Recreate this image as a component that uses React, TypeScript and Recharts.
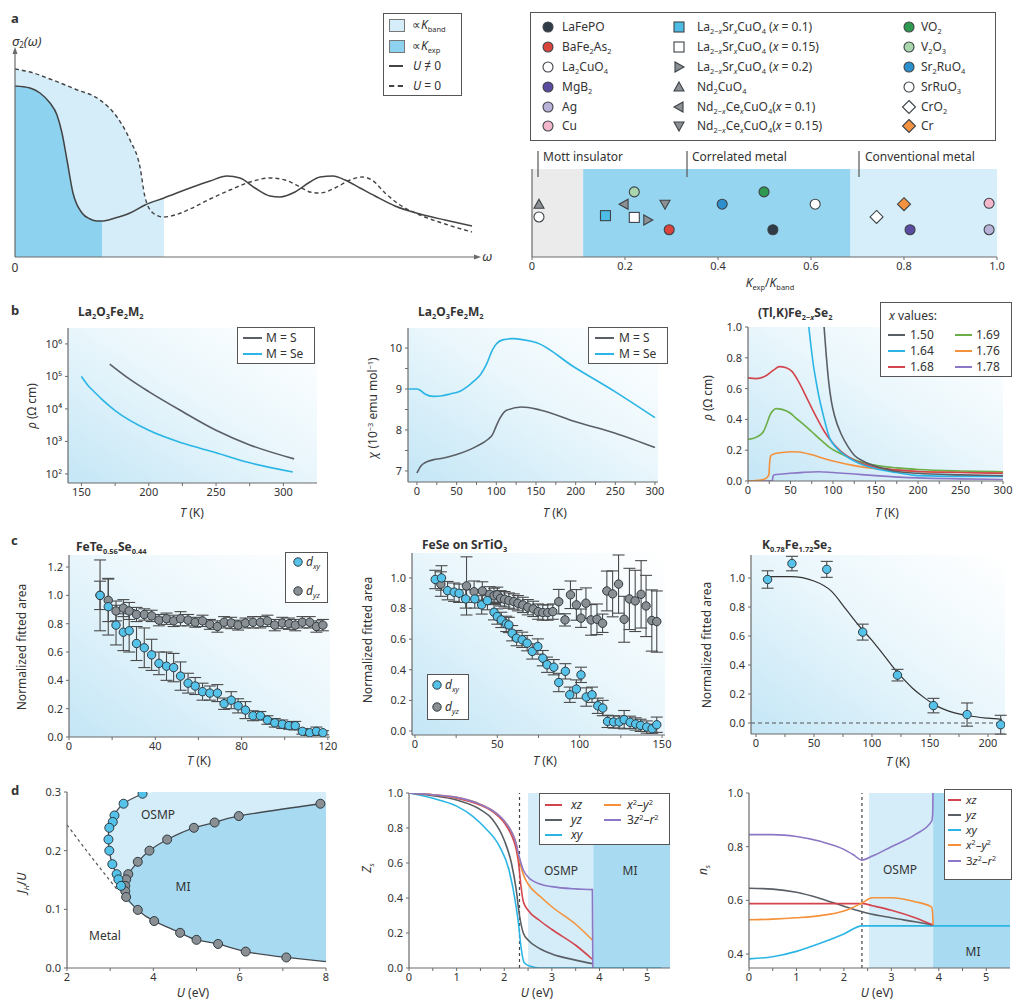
import React from 'react';
import {
  ComposedChart, Scatter, Line, Area, XAxis, YAxis,
  ReferenceArea, ReferenceLine, ErrorBar,
} from 'recharts';

const FONT = '"Noto Sans", "Open Sans", Arial, sans-serif';
const INK = '#333';
const AX = '#6a6a6a';
const CYAN = '#2ab5e5';
const GREY = '#5a5f65';
const RED = '#d3454d';
const GREEN = '#6cae45';
const ORANGE = '#f4913a';
const PURPLE = '#8c76c6';
const DOT_CYAN = '#55c2ea';
const DOT_GREY = '#8a8f94';
const LIGHT = '#d4edf9';
const MID = '#a8dbf1';

// ---- a (left): sigma_2(omega) sketch, arbitrary units ----
const omegaSolid = [0, 15, 25, 35, 42, 47, 52, 58, 67, 75, 82, 87, 100, 115, 130, 149, 175, 195, 212, 225, 240, 255, 265, 280, 295, 305, 318, 330, 345, 360, 380, 405, 430, 457];
const sigmaSolid = [171, 169, 164, 154, 142, 124, 97, 64, 44, 38, 36, 36, 39, 44, 52, 59, 69, 76, 81, 79, 69, 61, 60, 65, 75, 80, 81, 77, 69, 61, 51, 43, 37, 31];
const omegaDashed = [0, 15, 35, 60, 85, 102, 115, 125, 130, 138, 148, 160, 175, 195, 215, 235, 255, 270, 285, 295, 305, 320, 335, 347, 357, 370, 385, 405, 430, 457];
const sigmaDashed = [188, 185, 178, 168, 157, 140, 117, 90, 60, 44, 40, 42, 48, 58, 67, 75, 79, 77, 70, 65, 64, 69, 77, 80, 77, 64, 52, 42, 33, 25];
const omegaBand = [0, 15, 35, 60, 85, 102, 115, 125, 130, 132, 140, 149];
const sigmaBand = [188, 185, 178, 168, 157, 140, 117, 90, 60, 55, 57, 59];
const omegaExpCut = 87;

// ---- a (right): K_exp / K_band ----
const materials = ['LaFePO', 'BaFe2As2', 'La2CuO4', 'MgB2', 'Ag', 'Cu', 'LSCO 0.1', 'LSCO 0.15', 'LSCO 0.2', 'Nd2CuO4', 'NCCO 0.1', 'NCCO 0.15', 'VO2', 'V2O3', 'Sr2RuO4', 'SrRuO3', 'CrO2', 'Cr'];
const kRatio = [0.518, 0.295, 0.015, 0.813, 0.983, 0.983, 0.158, 0.22, 0.249, 0.015, 0.198, 0.286, 0.499, 0.22, 0.409, 0.609, 0.741, 0.8];
const kRow = [0.31, 0.31, 0.455, 0.31, 0.31, 0.61, 0.47, 0.45, 0.42, 0.6, 0.6, 0.6, 0.74, 0.74, 0.6, 0.6, 0.455, 0.6];
const regionEdges = [0, 0.11, 0.685, 1];

// ---- b ----
const rhoS_T = [171, 185, 200, 225, 250, 275, 308];
const rhoS = [2.4e5, 8.7e4, 3.4e4, 8.3e3, 2.2e3, 7.8e2, 2.9e2];
const rhoSe_T = [150, 155, 160, 165, 175, 200, 225, 250, 275, 307];
const rhoSe = [1e5, 5.2e4, 3.2e4, 2e4, 8.9e3, 2.2e3, 8.9e2, 4.5e2, 2.2e2, 1.15e2];

const chiSe_T = [-11, 0, 4, 10, 21, 30, 42, 55, 63, 72, 80, 88, 95, 100, 108, 120, 135, 151, 197, 250, 300];
const chiSe = [9.0, 9.0, 8.97, 8.88, 8.82, 8.83, 8.88, 8.95, 9.05, 9.2, 9.35, 9.62, 9.95, 10.1, 10.2, 10.23, 10.2, 10.13, 9.55, 8.93, 8.3];
const chiS_T = [0, 5, 10, 20, 35, 50, 75, 90, 95, 100, 105, 113, 132, 155, 200, 250, 300];
const chiS = [6.95, 7.12, 7.2, 7.27, 7.32, 7.4, 7.6, 7.78, 7.88, 8.1, 8.3, 8.48, 8.56, 8.49, 8.2, 7.92, 7.57];

const x150_T = [88, 89.5, 92, 95, 98, 102, 110, 118, 125, 135, 148, 160, 171, 200, 250, 300];
const x150 = [1.1, 1.0, 0.82, 0.64, 0.52, 0.42, 0.3, 0.22, 0.167, 0.13, 0.1, 0.08, 0.065, 0.05, 0.04, 0.035];
const x164_T = [70, 71.6, 74, 77, 80, 83, 88, 96, 105, 114, 125, 137, 150, 175, 200, 250, 300];
const x164 = [1.1, 1.0, 0.88, 0.75, 0.65, 0.56, 0.44, 0.28, 0.21, 0.167, 0.13, 0.1, 0.08, 0.055, 0.035, 0.03, 0.03];
const x168_T = [0, 10, 20, 30, 37, 45, 52, 60, 70, 80, 90, 100, 110, 125, 150, 175, 200, 250, 300];
const x168 = [0.67, 0.665, 0.68, 0.72, 0.743, 0.735, 0.71, 0.64, 0.53, 0.42, 0.32, 0.245, 0.19, 0.135, 0.09, 0.072, 0.062, 0.055, 0.05];
const x169_T = [0, 10, 18, 22, 26, 30, 33, 40, 50, 56, 65, 75, 87, 98, 110, 121, 135, 152, 175, 200, 250, 300];
const x169 = [0.27, 0.285, 0.32, 0.37, 0.43, 0.46, 0.47, 0.465, 0.44, 0.41, 0.37, 0.32, 0.26, 0.21, 0.175, 0.146, 0.12, 0.1, 0.085, 0.075, 0.065, 0.06];
const x176_T = [0, 10, 18, 22, 24.5, 25.5, 27, 30, 40, 52, 60, 75, 90, 100, 125, 150, 175, 200, 250, 300];
const x176 = [0, 0.003, 0.01, 0.02, 0.04, 0.12, 0.165, 0.175, 0.185, 0.19, 0.188, 0.17, 0.145, 0.13, 0.1, 0.08, 0.07, 0.062, 0.057, 0.055];
const x178_T = [0, 20, 28.5, 29.5, 31, 40, 50, 65, 83, 100, 125, 150, 200, 250, 300];
const x178 = [0, 0, 0.002, 0.03, 0.04, 0.045, 0.05, 0.056, 0.06, 0.055, 0.045, 0.035, 0.02, 0.014, 0.01];

// ---- c ----
const fts_T = [14.4, 18.2, 21.8, 25.2, 27.9, 31.3, 34.9, 38.3, 41.7, 45.2, 48.5, 51.7, 55.2, 58.5, 61.9, 65.3, 68.8, 71.9, 75.2, 78.4, 81.8, 85.3, 88.7, 92, 95.4, 98.9, 102, 104.9, 108.2, 111.6, 114.7, 117.7];
const fts_xy = [1.0, 0.92, 0.79, 0.74, 0.75, 0.66, 0.63, 0.58, 0.52, 0.5, 0.49, 0.43, 0.38, 0.36, 0.32, 0.31, 0.31, 0.235, 0.26, 0.22, 0.19, 0.15, 0.15, 0.12, 0.1, 0.09, 0.08, 0.08, 0.04, 0.03, 0.04, 0.03];
const fts_xyErr = [0.25, 0.2, 0.14, 0.13, 0.15, 0.12, 0.14, 0.11, 0.08, 0.1, 0.1, 0.1, 0.07, 0.06, 0.06, 0.05, 0.06, 0.04, 0.06, 0.05, 0.06, 0.035, 0.03, 0.03, 0.03, 0.03, 0.025, 0.03, 0.02, 0.02, 0.03, 0.015];
const fts_yz = [1.0, 0.965, 0.89, 0.91, 0.89, 0.865, 0.865, 0.855, 0.825, 0.835, 0.82, 0.835, 0.825, 0.81, 0.82, 0.795, 0.78, 0.81, 0.805, 0.79, 0.805, 0.81, 0.81, 0.82, 0.79, 0.805, 0.8, 0.79, 0.81, 0.81, 0.78, 0.79];
const fts_yzErr = [0.1, 0.15, 0.07, 0.06, 0.06, 0.05, 0.04, 0.04, 0.04, 0.04, 0.04, 0.05, 0.04, 0.035, 0.04, 0.035, 0.04, 0.04, 0.04, 0.035, 0.035, 0.04, 0.04, 0.04, 0.04, 0.04, 0.04, 0.04, 0.04, 0.04, 0.04, 0.04];

const sto_xyT = [12.3, 16.1, 19.8, 23.8, 26.8, 30.8, 36.3, 40.5, 44, 48, 50, 52.4, 55.4, 57, 59, 61.7, 65.1, 68.1, 71.2, 74.6, 77.6, 80.2, 84.3, 87.3, 91.3, 94, 98, 100.8, 104, 107.5, 111, 114, 116.9, 120.6, 124, 127, 130.6, 134, 137, 140.7, 144, 146.8];
const sto_xy = [0.99, 1.0, 0.917, 0.907, 0.9, 0.863, 0.863, 0.824, 0.852, 0.776, 0.748, 0.726, 0.7, 0.693, 0.639, 0.607, 0.596, 0.574, 0.52, 0.552, 0.476, 0.433, 0.417, 0.317, 0.39, 0.237, 0.274, 0.367, 0.222, 0.237, 0.165, 0.15, 0.063, 0.059, 0.059, 0.074, 0.057, 0.046, 0.037, 0.026, 0.015, 0.041];
const sto_xyErr = [0.06, 0.08, 0.06, 0.06, 0.06, 0.06, 0.06, 0.06, 0.06, 0.05, 0.05, 0.05, 0.05, 0.05, 0.05, 0.05, 0.05, 0.05, 0.05, 0.05, 0.05, 0.05, 0.05, 0.06, 0.05, 0.05, 0.06, 0.05, 0.06, 0.05, 0.05, 0.05, 0.04, 0.04, 0.04, 0.06, 0.04, 0.04, 0.04, 0.04, 0.03, 0.05];
const sto_yzT = [15.7, 31.3, 35.9, 40.9, 45.4, 48, 50, 52, 54.4, 57, 60, 62.5, 65.5, 68.5, 71.8, 74.8, 77.6, 80.6, 83.7, 87.3, 91.1, 94.4, 98, 100.8, 103.8, 106.9, 110.5, 113.9, 116.5, 120, 123.6, 127, 130.2, 133.7, 137.3, 140.3, 143.8, 146.8];
const sto_yz = [0.96, 0.948, 0.91, 0.915, 0.893, 0.883, 0.89, 0.867, 0.861, 0.852, 0.846, 0.835, 0.824, 0.809, 0.798, 0.78, 0.774, 0.774, 0.78, 0.845, 0.726, 0.89, 0.824, 0.737, 0.835, 0.726, 0.73, 0.704, 0.915, 0.896, 0.96, 0.73, 0.863, 0.85, 0.893, 0.817, 0.722, 0.715];
const sto_yzErr = [0.08, 0.19, 0.07, 0.06, 0.05, 0.05, 0.05, 0.05, 0.05, 0.05, 0.05, 0.05, 0.05, 0.05, 0.05, 0.05, 0.05, 0.05, 0.05, 0.08, 0.04, 0.09, 0.1, 0.06, 0.1, 0.1, 0.1, 0.06, 0.13, 0.15, 0.19, 0.15, 0.2, 0.2, 0.22, 0.2, 0.2, 0.2];

const kfs_T = [10, 31, 61, 92, 122, 153, 182, 211];
const kfs_xy = [0.99, 1.1, 1.06, 0.627, 0.33, 0.12, 0.058, -0.012];
const kfs_err = [0.06, 0.05, 0.055, 0.055, 0.04, 0.05, 0.08, 0.065];
const kfsFit_T = [10, 30, 50, 65, 78, 90, 100, 110, 123, 135, 145, 154, 165, 183, 200, 212];
const kfsFit = [1.01, 1.01, 0.98, 0.91, 0.78, 0.66, 0.57, 0.47, 0.34, 0.24, 0.175, 0.125, 0.085, 0.05, 0.033, 0.025];

// ---- d (left): phase diagram ----
const osmpEdgeU = [3.75, 3.31, 3.1, 3.06, 2.98, 2.96, 2.98, 3.05, 3.15, 3.19, 3.25];
const osmpEdgeJ = [0.297, 0.28, 0.26, 0.249, 0.239, 0.219, 0.2, 0.177, 0.16, 0.151, 0.14];
const miEdgeU = [7.87, 5.98, 5.42, 4.94, 4.32, 3.91, 3.64, 3.42, 3.37, 3.35, 3.35, 3.37, 3.64, 4.02, 4.62, 5.0, 5.5, 6.14, 7.08];
const miEdgeJ = [0.28, 0.259, 0.248, 0.239, 0.219, 0.2, 0.181, 0.16, 0.151, 0.14, 0.131, 0.121, 0.099, 0.08, 0.06, 0.048, 0.041, 0.028, 0.018];
const miTailU = 8.0;
const miTailJ = 0.011;
const metalEdgeU = [2.0, 2.38, 2.77, 3.19];
const metalEdgeJ = [0.244, 0.207, 0.17, 0.131];
const osmpFillU = [2.96, 2.98, 3.05, 3.1, 3.15, 3.19, 3.25, 3.31, 3.5, 3.75, 4.0, 8.0];
const osmpFillLo = [0.219, 0.2, 0.177, 0.168, 0.16, 0.151, 0.14, 0.137, 0.13, 0.13, 0.13, 0.13];
const osmpFillHi = [0.219, 0.239, 0.252, 0.26, 0.267, 0.272, 0.277, 0.28, 0.289, 0.297, 0.3, 0.3];
const miFillU = [3.34, 3.36, 3.42, 3.64, 3.91, 4.02, 4.32, 4.62, 4.94, 5.42, 5.98, 6.14, 7.08, 7.87, 8.0];
const miFillLo = [0.135, 0.122, 0.112, 0.099, 0.086, 0.08, 0.07, 0.06, 0.049, 0.042, 0.031, 0.028, 0.018, 0.012, 0.011];
const miFillHi = [0.135, 0.148, 0.16, 0.181, 0.2, 0.205, 0.219, 0.229, 0.239, 0.248, 0.259, 0.262, 0.273, 0.28, 0.281];

// ---- d (middle): Z_s ----
const zU_xz = [0, 0.5, 1, 1.5, 1.75, 2, 2.15, 2.25, 2.3, 2.35, 2.4, 2.5, 2.75, 3, 3.5, 3.85];
const z_xz = [1, 0.99, 0.97, 0.93, 0.895, 0.83, 0.76, 0.68, 0.6, 0.47, 0.38, 0.33, 0.27, 0.22, 0.13, 0.05];
const zU_yz = [0, 0.5, 1, 1.5, 1.75, 2, 2.15, 2.25, 2.32, 2.4, 2.5, 2.75, 3, 3.5, 3.85];
const z_yz = [1, 0.985, 0.96, 0.905, 0.85, 0.73, 0.6, 0.45, 0.3, 0.2, 0.16, 0.11, 0.08, 0.045, 0.025];
const zU_xy = [0, 0.5, 1, 1.34, 1.6, 1.9, 2.1, 2.25, 2.3, 2.35, 2.42, 2.55, 2.75, 5.3];
const z_xy = [1, 0.97, 0.925, 0.867, 0.8, 0.695, 0.56, 0.35, 0.25, 0.124, 0.03, 0.01, 0, 0];
const zU_x2y2 = [0, 0.5, 1, 1.5, 1.75, 2, 2.15, 2.25, 2.3, 2.35, 2.4, 2.5, 2.75, 3, 3.5, 3.85];
const z_x2y2 = [1, 0.99, 0.975, 0.935, 0.9, 0.84, 0.78, 0.71, 0.64, 0.58, 0.535, 0.48, 0.41, 0.35, 0.25, 0.16];
const zU_3z2 = [0, 0.5, 1, 1.5, 1.75, 2, 2.15, 2.25, 2.3, 2.35, 2.4, 2.5, 2.75, 3, 3.5, 3.85, 3.86];
const z_3z2 = [1, 0.99, 0.975, 0.935, 0.9, 0.84, 0.78, 0.71, 0.65, 0.6, 0.56, 0.52, 0.48, 0.465, 0.452, 0.448, 0];

// ---- d (right): n_s ----
const nU_3z2 = [0, 0.5, 1, 1.5, 2, 2.2, 2.38, 2.6, 3, 3.5, 3.85, 3.87, 3.88];
const n_3z2 = [0.845, 0.845, 0.838, 0.82, 0.79, 0.77, 0.75, 0.765, 0.8, 0.845, 0.895, 0.92, 1.05];
const nU_yz = [0, 0.5, 1, 1.5, 2, 2.5, 3, 3.5, 3.88];
const n_yz = [0.645, 0.642, 0.63, 0.607, 0.578, 0.552, 0.535, 0.52, 0.508];
const nU_xz = [0, 1, 2, 2.4, 2.6, 3, 3.5, 3.88];
const n_xz = [0.588, 0.588, 0.588, 0.588, 0.58, 0.563, 0.535, 0.508];
const nU_x2y2 = [0, 0.5, 1, 1.5, 2, 2.38, 2.6, 3, 3.5, 3.85, 3.87, 3.88];
const n_x2y2 = [0.528, 0.53, 0.535, 0.543, 0.56, 0.59, 0.61, 0.61, 0.595, 0.575, 0.55, 0.508];
const nU_xy = [0, 0.5, 1, 1.5, 2, 2.38, 5.5];
const n_xy = [0.382, 0.39, 0.41, 0.44, 0.475, 0.505, 0.505];

// ---------- helpers ----------
const pts = (xs: number[], ys: number[]) => xs.map((x, i) => ({ x, y: ys[i] }));
const errPts = (xs: number[], ys: number[], es: number[]) => xs.map((x, i) => ({ x, y: ys[i], err: es[i] }));
const bandPts = (xs: number[], lo: number[], hi: number[]) => xs.map((x, i) => ({ x, band: [lo[i], hi[i]] }));

const YW = 44, XH = 22, MT = 10, MR = 16;
type Box = { x0: number; y0: number; x1: number; y1: number };

function Frame({ box, children }: { box: Box; children: React.ReactNode }) {
  const width = box.x1 - box.x0 + YW + MR;
  const height = box.y1 - box.y0 + MT + XH;
  return (
    <div style={{ position: 'absolute', left: box.x0 - YW, top: box.y0 - MT }}>
      <ComposedChart width={width} height={height} margin={{ top: MT, right: MR, bottom: 0, left: 0 }}>
        {children}
      </ComposedChart>
    </div>
  );
}

const TICK = { fontSize: 11, fill: INK, fontFamily: FONT };
const LINE_AX = { stroke: AX, strokeWidth: 1.2 };

function xAx(domain: number[], ticks?: number[], fmt?: (v: number) => string) {
  return (
    <XAxis type="number" dataKey="x" domain={domain} ticks={ticks} tickFormatter={fmt} allowDataOverflow interval={0}
      height={XH} axisLine={LINE_AX} tickLine={{ stroke: AX }} tickSize={3} tickMargin={2} tick={ticks ? TICK : false} />
  );
}
function yAx(domain: number[], ticks?: number[], fmt?: (v: number) => string, scale?: any) {
  return (
    <YAxis type="number" dataKey="y" domain={domain} ticks={ticks} tickFormatter={fmt} allowDataOverflow interval={0}
      scale={scale || 'auto'} width={YW} axisLine={LINE_AX} tickLine={ticks ? { stroke: AX } : false} tickSize={3}
      tickMargin={3} tick={ticks ? TICK : false} />
  );
}
function grad(id: string) {
  return (
    <defs>
      <linearGradient id={id} x1="0" y1="1" x2="1" y2="0">
        <stop offset="0%" stopColor="#c4e6f6" />
        <stop offset="55%" stopColor="#ebf7fc" />
        <stop offset="100%" stopColor="#ffffff" />
      </linearGradient>
    </defs>
  );
}
function bg(id: string, xd: number[], yd: number[]) {
  return <ReferenceArea x1={xd[0]} x2={xd[1]} y1={yd[0]} y2={yd[1]} fill={`url(#${id})`} fillOpacity={1} stroke="none" ifOverflow="hidden" />;
}
function curve(data: any[], color: string, width = 1.6, type: any = 'monotone', dash?: string) {
  return <Line data={data} dataKey="y" type={type} stroke={color} strokeWidth={width} strokeDasharray={dash}
    dot={false} activeDot={false} isAnimationActive={false} />;
}
const circleShape = (fill: string, r = 4.2) => (p: any) =>
  <circle cx={p.cx} cy={p.cy} r={r} fill={fill} stroke="#2f3a40" strokeWidth={1} />;
function errSeries(data: any[], fill: string) {
  return (
    <Scatter data={data} shape={circleShape(fill)} isAnimationActive={false}>
      <ErrorBar dataKey="err" direction="y" width={6} stroke="#4a4a4a" strokeWidth={1.1} />
    </Scatter>
  );
}

function Txt({ x, y, children, size = 12, bold = false, align = 'left', rotate = false, italic = false }:
  { x: number; y: number; children: React.ReactNode; size?: number; bold?: boolean; align?: string; rotate?: boolean; italic?: boolean }) {
  const tx = align === 'center' ? '-50%' : align === 'right' ? '-100%' : '0';
  return (
    <div style={{
      position: 'absolute', left: x, top: y, whiteSpace: 'nowrap', lineHeight: 1, fontSize: size,
      fontWeight: bold ? 700 : 400, fontStyle: italic ? 'italic' : 'normal', color: INK,
      transform: rotate ? 'translate(-50%,-50%) rotate(-90deg)' : `translate(${tx},-50%)`,
    }}>{children}</div>
  );
}
const Sub = ({ children }: { children: React.ReactNode }) =>
  <sub style={{ fontSize: '0.62em', verticalAlign: '-0.35em', lineHeight: 0, fontStyle: 'normal' }}>{children}</sub>;
const Sup = ({ children }: { children: React.ReactNode }) =>
  <sup style={{ fontSize: '0.62em', verticalAlign: '0.55em', lineHeight: 0 }}>{children}</sup>;
const I = ({ children }: { children: React.ReactNode }) => <span style={{ fontStyle: 'italic' }}>{children}</span>;

function Box({ x0, y0, x1, y1 }: Box) {
  return <div style={{ position: 'absolute', left: x0, top: y0, width: x1 - x0, height: y1 - y0, border: '1.5px solid #555', background: '#fff', boxSizing: 'border-box' }} />;
}
function Swatch({ x, y, w = 17, color, dash = false }: { x: number; y: number; w?: number; color: string; dash?: boolean }) {
  return <div style={{ position: 'absolute', left: x, top: y - 1, width: w, height: 0, borderTop: `2px ${dash ? 'dashed' : 'solid'} ${color}` }} />;
}

function Marker({ cx, cy, kind, fill, s = 5 }: { cx: number; cy: number; kind: string; fill: string; s?: number }) {
  const st = { fill, stroke: '#3d4348', strokeWidth: 1.1 };
  const d = s + 1.5;
  if (kind === 'square') return <rect x={cx - s} y={cy - s} width={2 * s} height={2 * s} {...st} />;
  if (kind === 'diamond') return <polygon points={`${cx},${cy - d} ${cx + d},${cy} ${cx},${cy + d} ${cx - d},${cy}`} {...st} />;
  if (kind === 'triU') return <polygon points={`${cx},${cy - s} ${cx + s},${cy + s * 0.8} ${cx - s},${cy + s * 0.8}`} {...st} />;
  if (kind === 'triD') return <polygon points={`${cx},${cy + s} ${cx + s},${cy - s * 0.8} ${cx - s},${cy - s * 0.8}`} {...st} />;
  if (kind === 'triL') return <polygon points={`${cx - s},${cy} ${cx + s * 0.8},${cy - s} ${cx + s * 0.8},${cy + s}`} {...st} />;
  if (kind === 'triR') return <polygon points={`${cx + s},${cy} ${cx - s * 0.8},${cy - s} ${cx - s * 0.8},${cy + s}`} {...st} />;
  return <circle cx={cx} cy={cy} r={s} {...st} />;
}

const matKind = ['circle', 'circle', 'circle', 'circle', 'circle', 'circle', 'square', 'square', 'triR', 'triU', 'triL', 'triD', 'circle', 'circle', 'circle', 'circle', 'diamond', 'diamond'];
const matFill = ['#2f3b46', '#d9443c', '#ffffff', '#5a4aa0', '#b8b1d8', '#f4b6cb', '#4dbde6', '#ffffff', '#8c9094', '#8c9094', '#8c9094', '#8c9094', '#2f9a4f', '#a9d6ad', '#2d8fcc', '#ffffff', '#ffffff', '#f5923f'];
const matLabel: React.ReactNode[] = [
  <>LaFePO</>, <>BaFe<Sub>2</Sub>As<Sub>2</Sub></>, <>La<Sub>2</Sub>CuO<Sub>4</Sub></>, <>MgB<Sub>2</Sub></>, <>Ag</>, <>Cu</>,
  <>La<Sub>2−<I>x</I></Sub>Sr<Sub><I>x</I></Sub>CuO<Sub>4</Sub> (<I>x</I> = 0.1)</>,
  <>La<Sub>2−<I>x</I></Sub>Sr<Sub><I>x</I></Sub>CuO<Sub>4</Sub> (<I>x</I> = 0.15)</>,
  <>La<Sub>2−<I>x</I></Sub>Sr<Sub><I>x</I></Sub>CuO<Sub>4</Sub> (<I>x</I> = 0.2)</>,
  <>Nd<Sub>2</Sub>CuO<Sub>4</Sub></>,
  <>Nd<Sub>2−<I>x</I></Sub>Ce<Sub><I>x</I></Sub>CuO<Sub>4</Sub>(<I>x</I> = 0.1)</>,
  <>Nd<Sub>2−<I>x</I></Sub>Ce<Sub><I>x</I></Sub>CuO<Sub>4</Sub>(<I>x</I> = 0.15)</>,
  <>VO<Sub>2</Sub></>, <>V<Sub>2</Sub>O<Sub>3</Sub></>, <>Sr<Sub>2</Sub>RuO<Sub>4</Sub></>, <>SrRuO<Sub>3</Sub></>, <>CrO<Sub>2</Sub></>, <>Cr</>,
];
const legColSym = [548, 679, 909];
const legColTxt = [562, 697, 921];
const legRowY = [27, 47, 67, 87, 107, 126];

const SUPS: Record<number, string> = { 2: '²', 3: '³', 4: '⁴', 5: '⁵', 6: '⁶' };
const fmt1 = (v: number) => v.toFixed(1);

export default function App() {
  const solidPts = pts(omegaSolid, sigmaSolid);
  const expFill = solidPts.filter((p) => p.x <= omegaExpCut);
  const matPts = materials.map((name, i) => ({ x: kRatio[i], y: kRow[i], i, name }));
  const regionFills = ['#ebebeb', '#95d5f0', '#d6eef9'];

  return (
    <div style={{ position: 'absolute', left: 0, top: 0, width: 1016, height: 1003, background: '#fff', fontFamily: FONT, color: INK, overflow: 'hidden' }}>
      {/* ===== a left ===== */}
      <Frame box={{ x0: 15, y0: 52, x1: 475, y1: 257 }}>
        {xAx([0, 460])}
        {yAx([0, 205])}
        <Area data={pts(omegaBand, sigmaBand)} dataKey="y" type="monotone" stroke="none" fill={LIGHT} fillOpacity={1} activeDot={false} isAnimationActive={false} />
        <Area data={expFill} dataKey="y" type="monotone" stroke="none" fill="#8dd2ef" fillOpacity={1} activeDot={false} isAnimationActive={false} />
        {curve(pts(omegaDashed, sigmaDashed), '#444', 1.4, 'monotone', '4 3')}
        {curve(solidPts, '#444', 1.5)}
      </Frame>
      <Txt x={11} y={18} size={13} bold>a</Txt>
      <Txt x={12} y={41} size={13} italic>σ<Sub>2</Sub>(ω)</Txt>
      <Txt x={15} y={268} size={12} align="center">0</Txt>
      <Txt x={487} y={256} size={13} italic align="center">ω</Txt>
      <Box x0={383} y0={13} x1={462} y1={96} />
      <div style={{ position: 'absolute', left: 389, top: 19, width: 14, height: 11, background: LIGHT, border: '1px solid #777' }} />
      <div style={{ position: 'absolute', left: 389, top: 40, width: 14, height: 11, background: '#8dd2ef', border: '1px solid #777' }} />
      <Txt x={412} y={25} size={12}>∝<I>K</I><Sub>band</Sub></Txt>
      <Txt x={412} y={46} size={12}>∝<I>K</I><Sub>exp</Sub></Txt>
      <Swatch x={389} y={66} w={14} color="#444" />
      <Swatch x={389} y={86} w={14} color="#444" dash />
      <Txt x={413} y={66} size={12}><I>U</I> ≠ 0</Txt>
      <Txt x={413} y={86} size={12}><I>U</I> = 0</Txt>

      {/* ===== a right ===== */}
      <Box x0={530} y0={12} x1={996} y1={141} />
      {materials.map((m, i) => {
        const c = i < 6 ? 0 : i < 12 ? 1 : 2;
        const y = legRowY[i % 6];
        return (
          <React.Fragment key={m}>
            <svg style={{ position: 'absolute', left: legColSym[c] - 8, top: y - 8 }} width={16} height={16}>
              <Marker cx={8} cy={8} kind={matKind[i]} fill={matFill[i]} />
            </svg>
            <Txt x={legColTxt[c]} y={y} size={12}>{matLabel[i]}</Txt>
          </React.Fragment>
        );
      })}
      <Frame box={{ x0: 532, y0: 169, x1: 997, y1: 257 }}>
        {xAx([0, 1], [0, 0.2, 0.4, 0.6, 0.8, 1], (v) => (v === 0 ? '0' : v.toFixed(1)))}
        {yAx([0, 1])}
        {regionFills.map((f, i) => (
          <ReferenceArea key={i} x1={regionEdges[i]} x2={regionEdges[i + 1]} y1={0} y2={1} fill={f} fillOpacity={1} stroke="none" ifOverflow="hidden" />
        ))}
        <Scatter data={matPts} isAnimationActive={false}
          shape={(p: any) => <Marker cx={p.cx} cy={p.cy} kind={matKind[p.payload.i]} fill={matFill[p.payload.i]} />} />
      </Frame>
      <Txt x={543} y={157} size={12}>Mott insulator</Txt>
      <Txt x={692} y={157} size={12}>Correlated metal</Txt>
      <Txt x={865} y={157} size={12}>Conventional metal</Txt>
      <Txt x={770} y={283} size={12} align="center"><I>K</I><Sub>exp</Sub>/<I>K</I><Sub>band</Sub></Txt>

      {/* ===== b ===== */}
      <Frame box={{ x0: 68, y0: 328, x1: 317, y1: 483 }}>
        {grad('gb1')}
        {xAx([140, 325], [150, 175, 200, 225, 250, 275, 300], (v) => (v % 50 === 0 ? String(v) : ''))}
        {yAx([52.5, 3.09e6], [1e2, 1e3, 1e4, 1e5, 1e6], (v) => '10' + SUPS[Math.round(Math.log10(v))], 'log')}
        {bg('gb1', [140, 325], [52.5, 3.09e6])}
        {curve(pts(rhoSe_T, rhoSe), CYAN)}
        {curve(pts(rhoS_T, rhoS), GREY)}
      </Frame>
      <Txt x={11} y={310} size={13} bold>b</Txt>
      <Txt x={78} y={312} size={12} bold>La<Sub>2</Sub>O<Sub>3</Sub>Fe<Sub>2</Sub>M<Sub>2</Sub></Txt>
      <Txt x={32} y={406} size={12} rotate><I>ρ</I> (Ω cm)</Txt>
      <Txt x={192} y={513} size={12} align="center"><I>T</I> (K)</Txt>
      <Box x0={237} y0={327} x1={315} y1={364} />
      <Swatch x={243} y={338} w={19} color={GREY} />
      <Swatch x={243} y={354} w={19} color={CYAN} />
      <Txt x={266} y={338} size={12}>M = S</Txt>
      <Txt x={266} y={354} size={12}>M = Se</Txt>

      <Frame box={{ x0: 408, y0: 328, x1: 658, y1: 482 }}>
        {grad('gb2')}
        {xAx([-11.3, 303.8], [0, 25, 50, 75, 100, 125, 150, 175, 200, 225, 250, 275, 300], (v) => (v % 50 === 0 ? String(v) : ''))}
        {yAx([6.73, 10.49], [7, 7.5, 8, 8.5, 9, 9.5, 10], (v) => (Number.isInteger(v) ? String(v) : ''))}
        {bg('gb2', [-11.3, 303.8], [6.73, 10.49])}
        {curve(pts(chiSe_T, chiSe), CYAN)}
        {curve(pts(chiS_T, chiS), GREY)}
      </Frame>
      <Txt x={418} y={312} size={12} bold>La<Sub>2</Sub>O<Sub>3</Sub>Fe<Sub>2</Sub>M<Sub>2</Sub></Txt>
      <Txt x={373} y={408} size={12} rotate><I>χ</I> (10<Sup>−3</Sup> emu mol<Sup>−1</Sup>)</Txt>
      <Txt x={555} y={513} size={12} align="center"><I>T</I> (K)</Txt>
      <Box x0={588} y0={327} x1={668} y1={364} />
      <Swatch x={595} y={338} w={19} color={GREY} />
      <Swatch x={595} y={354} w={19} color={CYAN} />
      <Txt x={619} y={338} size={12}>M = S</Txt>
      <Txt x={619} y={354} size={12}>M = Se</Txt>

      <Frame box={{ x0: 748, y0: 327, x1: 1003, y1: 481 }}>
        {grad('gb3')}
        {xAx([0, 300], [0, 25, 50, 75, 100, 125, 150, 175, 200, 225, 250, 275, 300], (v) => (v % 50 === 0 ? String(v) : ''))}
        {yAx([0, 1], [0, 0.2, 0.4, 0.6, 0.8, 1], fmt1)}
        {bg('gb3', [0, 300], [0, 1])}
        {curve(pts(x178_T, x178), PURPLE)}
        {curve(pts(x176_T, x176), ORANGE)}
        {curve(pts(x169_T, x169), GREEN)}
        {curve(pts(x168_T, x168), RED)}
        {curve(pts(x164_T, x164), CYAN)}
        {curve(pts(x150_T, x150), GREY)}
      </Frame>
      <Txt x={758} y={313} size={12} bold>(Tl,K)Fe<Sub>2−<I>x</I></Sub>Se<Sub>2</Sub></Txt>
      <Txt x={708} y={398} size={12} rotate><I>ρ</I> (Ω cm)</Txt>
      <Txt x={887} y={513} size={12} align="center"><I>T</I> (K)</Txt>
      <Box x0={880} y0={302} x1={1012} y1={377} />
      <Txt x={889} y={316} size={12}><I>x</I> values:</Txt>
      <Swatch x={888} y={335} color={GREY} />
      <Swatch x={888} y={351} color={CYAN} />
      <Swatch x={888} y={367} color={RED} />
      <Swatch x={955} y={335} color={GREEN} />
      <Swatch x={955} y={351} color={ORANGE} />
      <Swatch x={955} y={367} color={PURPLE} />
      <Txt x={910} y={335} size={12}>1.50</Txt>
      <Txt x={910} y={351} size={12}>1.64</Txt>
      <Txt x={910} y={367} size={12}>1.68</Txt>
      <Txt x={976} y={335} size={12}>1.69</Txt>
      <Txt x={976} y={351} size={12}>1.76</Txt>
      <Txt x={976} y={367} size={12}>1.78</Txt>

      {/* ===== c ===== */}
      <Frame box={{ x0: 69, y0: 555, x1: 330, y1: 737 }}>
        {grad('gc1')}
        {xAx([0, 121], [0, 20, 40, 60, 80, 100, 120], (v) => (v % 40 === 0 ? String(v) : ''))}
        {yAx([0, 1.285], [0, 0.2, 0.4, 0.6, 0.8, 1, 1.2], fmt1)}
        {bg('gc1', [0, 121], [0, 1.285])}
        {errSeries(errPts(fts_T, fts_yz, fts_yzErr), DOT_GREY)}
        {errSeries(errPts(fts_T, fts_xy, fts_xyErr), DOT_CYAN)}
      </Frame>
      <Txt x={11} y={540} size={13} bold>c</Txt>
      <Txt x={76} y={547} size={12} bold>FeTe<Sub>0.56</Sub>Se<Sub>0.44</Sub></Txt>
      <Txt x={22} y={647} size={12} rotate>Normalized fitted area</Txt>
      <Txt x={199} y={761} size={12} align="center"><I>T</I> (K)</Txt>
      <Box x0={285} y0={552} x1={328} y1={603} />
      <svg style={{ position: 'absolute', left: 292, top: 556 }} width={12} height={12}><circle cx={6} cy={6} r={4.2} fill={DOT_CYAN} stroke="#2f3a40" /></svg>
      <svg style={{ position: 'absolute', left: 292, top: 585 }} width={12} height={12}><circle cx={6} cy={6} r={4.2} fill={DOT_GREY} stroke="#2f3a40" /></svg>
      <Txt x={306} y={562} size={12}><I>d</I><Sub><I>xy</I></Sub></Txt>
      <Txt x={306} y={591} size={12}><I>d</I><Sub><I>yz</I></Sub></Txt>

      <Frame box={{ x0: 412, y0: 553, x1: 665, y1: 735 }}>
        {grad('gc2')}
        {xAx([-1.8, 151.8], [0, 25, 50, 75, 100, 125, 150], (v) => (v % 50 === 0 ? String(v) : ''))}
        {yAx([-0.026, 1.163], [0, 0.2, 0.4, 0.6, 0.8, 1], fmt1)}
        {bg('gc2', [-1.8, 151.8], [-0.026, 1.163])}
        {errSeries(errPts(sto_yzT, sto_yz, sto_yzErr), DOT_GREY)}
        {errSeries(errPts(sto_xyT, sto_xy, sto_xyErr), DOT_CYAN)}
      </Frame>
      <Txt x={422} y={545} size={12} bold>FeSe on SrTiO<Sub>3</Sub></Txt>
      <Txt x={368} y={640} size={12} rotate>Normalized fitted area</Txt>
      <Txt x={545} y={761} size={12} align="center"><I>T</I> (K)</Txt>
      <Box x0={427} y0={674} x1={469} y1={720} />
      <svg style={{ position: 'absolute', left: 431, top: 679 }} width={12} height={12}><circle cx={6} cy={6} r={4.2} fill={DOT_CYAN} stroke="#2f3a40" /></svg>
      <svg style={{ position: 'absolute', left: 431, top: 701 }} width={12} height={12}><circle cx={6} cy={6} r={4.2} fill={DOT_GREY} stroke="#2f3a40" /></svg>
      <Txt x={445} y={685} size={12}><I>d</I><Sub><I>xy</I></Sub></Txt>
      <Txt x={445} y={707} size={12}><I>d</I><Sub><I>yz</I></Sub></Txt>

      <Frame box={{ x0: 751, y0: 555, x1: 1005, y1: 734 }}>
        {grad('gc3')}
        {xAx([-4.3, 214.7], [0, 25, 50, 75, 100, 125, 150, 175, 200], (v) => (v % 50 === 0 ? String(v) : ''))}
        {yAx([-0.076, 1.159], [0, 0.2, 0.4, 0.6, 0.8, 1], fmt1)}
        {bg('gc3', [-4.3, 214.7], [-0.076, 1.159])}
        <ReferenceLine y={0} stroke="#555" strokeWidth={1.2} strokeDasharray="4 3" />
        {curve(pts(kfsFit_T, kfsFit), '#333', 1.2)}
        {errSeries(errPts(kfs_T, kfs_xy, kfs_err), DOT_CYAN)}
      </Frame>
      <Txt x={762} y={545} size={12} bold>K<Sub>0.78</Sub>Fe<Sub>1.72</Sub>Se<Sub>2</Sub></Txt>
      <Txt x={707} y={645} size={12} rotate>Normalized fitted area</Txt>
      <Txt x={898} y={762} size={12} align="center"><I>T</I> (K)</Txt>

      {/* ===== d ===== */}
      <Frame box={{ x0: 67, y0: 792, x1: 326, y1: 968 }}>
        {xAx([2, 8], [2, 3, 4, 5, 6, 7, 8], (v) => (v % 2 === 0 ? String(v) : ''))}
        {yAx([0, 0.3], [0, 0.1, 0.2, 0.3], fmt1)}
        <Area data={bandPts(osmpFillU, osmpFillLo, osmpFillHi)} dataKey="band" type="linear" stroke="none" fill={LIGHT} fillOpacity={1} activeDot={false} isAnimationActive={false} />
        <Area data={bandPts(miFillU, miFillLo, miFillHi)} dataKey="band" type="linear" stroke="none" fill={MID} fillOpacity={1} activeDot={false} isAnimationActive={false} />
        {curve(pts(metalEdgeU, metalEdgeJ), '#555', 1.2, 'natural', '3 3')}
        {curve(pts([...miEdgeU, miTailU], [...miEdgeJ, miTailJ]), '#454a50', 1.3, 'natural')}
        {curve(pts(osmpEdgeU, osmpEdgeJ), '#454a50', 1.3, 'natural')}
        <Scatter data={pts(miEdgeU, miEdgeJ)} shape={circleShape(DOT_GREY, 4.5)} isAnimationActive={false} />
        <Scatter data={pts(osmpEdgeU, osmpEdgeJ)} shape={circleShape(DOT_CYAN, 4.5)} isAnimationActive={false} />
      </Frame>
      <Txt x={11} y={790} size={13} bold>d</Txt>
      <Txt x={158} y={815} size={12} align="center">OSMP</Txt>
      <Txt x={183} y={887} size={12} align="center">MI</Txt>
      <Txt x={105} y={936} size={12} align="center">Metal</Txt>
      <Txt x={22} y={883} size={12} rotate><I>J</I><Sub><I>H</I></Sub>/<I>U</I></Txt>
      <Txt x={193} y={993} size={12} align="center"><I>U</I> (eV)</Txt>

      <Frame box={{ x0: 409, y0: 793, x1: 670, y1: 968 }}>
        {xAx([0, 5.48], [0, 0.5, 1, 1.5, 2, 2.5, 3, 3.5, 4, 4.5, 5], (v) => (Number.isInteger(v) ? String(v) : ''))}
        {yAx([0, 1], [0, 0.2, 0.4, 0.6, 0.8, 1], fmt1)}
        <ReferenceArea x1={2.5} x2={3.87} y1={0} y2={1} fill={LIGHT} fillOpacity={1} stroke="none" ifOverflow="hidden" />
        <ReferenceArea x1={3.87} x2={5.48} y1={0} y2={1} fill={MID} fillOpacity={1} stroke="none" ifOverflow="hidden" />
        <ReferenceLine x={2.32} stroke="#444" strokeWidth={1.2} strokeDasharray="3 3" />
        {curve(pts(zU_xy, z_xy), CYAN)}
        {curve(pts(zU_yz, z_yz), GREY)}
        {curve(pts(zU_xz, z_xz), RED)}
        {curve(pts(zU_x2y2, z_x2y2), ORANGE)}
        {curve(pts(zU_3z2, z_3z2), PURPLE)}
      </Frame>
      <Txt x={561} y={871} size={12} align="center">OSMP</Txt>
      <Txt x={630} y={871} size={12} align="center">MI</Txt>
      <Txt x={367} y={868} size={12} rotate><I>Z</I><Sub><I>s</I></Sub></Txt>
      <Txt x={537} y={993} size={12} align="center"><I>U</I> (eV)</Txt>
      <Box x0={539} y0={793} x1={670} y1={845} />
      <Swatch x={545} y={805} color={RED} />
      <Swatch x={545} y={820} color={GREY} />
      <Swatch x={545} y={835} color={CYAN} />
      <Swatch x={604} y={805} color={ORANGE} />
      <Swatch x={604} y={820} color={PURPLE} />
      <Txt x={571} y={805} size={12} italic>xz</Txt>
      <Txt x={571} y={820} size={12} italic>yz</Txt>
      <Txt x={571} y={835} size={12} italic>xy</Txt>
      <Txt x={627} y={805} size={12}><I>x</I><Sup>2</Sup>–<I>y</I><Sup>2</Sup></Txt>
      <Txt x={627} y={820} size={12}>3<I>z</I><Sup>2</Sup>–<I>r</I><Sup>2</Sup></Txt>

      <Frame box={{ x0: 749, y0: 793, x1: 1010, y1: 968 }}>
        {xAx([0, 5.5], [0, 0.5, 1, 1.5, 2, 2.5, 3, 3.5, 4, 4.5, 5], (v) => (Number.isInteger(v) ? String(v) : ''))}
        {yAx([0.348, 1], [0.4, 0.6, 0.8, 1], fmt1)}
        <ReferenceArea x1={2.53} x2={3.88} y1={0.348} y2={1} fill={LIGHT} fillOpacity={1} stroke="none" ifOverflow="hidden" />
        <ReferenceArea x1={3.88} x2={5.5} y1={0.348} y2={1} fill={MID} fillOpacity={1} stroke="none" ifOverflow="hidden" />
        <ReferenceLine x={2.38} stroke="#444" strokeWidth={1.2} strokeDasharray="3 3" />
        {curve(pts(nU_xy, n_xy), CYAN)}
        {curve(pts(nU_yz, n_yz), GREY)}
        {curve(pts(nU_xz, n_xz), RED)}
        {curve(pts(nU_x2y2, n_x2y2), ORANGE)}
        {curve(pts(nU_3z2, n_3z2), PURPLE)}
      </Frame>
      <Txt x={900} y={870} size={12} align="center">OSMP</Txt>
      <Txt x={973} y={952} size={12} align="center">MI</Txt>
      <Txt x={703} y={870} size={12} rotate><I>n</I><Sub><I>s</I></Sub></Txt>
      <Txt x={877} y={993} size={12} align="center"><I>U</I> (eV)</Txt>
      <Box x0={944} y0={789} x1={1012} y1={880} />
      <Swatch x={948} y={800} w={13} color={RED} />
      <Swatch x={948} y={815} w={13} color={GREY} />
      <Swatch x={948} y={830} w={13} color={CYAN} />
      <Swatch x={948} y={845} w={13} color={ORANGE} />
      <Swatch x={948} y={861} w={13} color={PURPLE} />
      <Txt x={966} y={800} size={11.5} italic>xz</Txt>
      <Txt x={966} y={815} size={11.5} italic>yz</Txt>
      <Txt x={966} y={830} size={11.5} italic>xy</Txt>
      <Txt x={966} y={845} size={11.5}><I>x</I><Sup>2</Sup>–<I>y</I><Sup>2</Sup></Txt>
      <Txt x={966} y={861} size={11.5}>3<I>z</I><Sup>2</Sup>–<I>r</I><Sup>2</Sup></Txt>

      {/* arrows and annotation marks */}
      <svg style={{ position: 'absolute', left: 0, top: 0, pointerEvents: 'none' }} width={1016} height={1003}>
        <polygon points="15,47 12.5,54 17.5,54" fill={AX} />
        <polygon points="481,257 474,254.5 474,259.5" fill={AX} />
        <line x1={538} y1={151} x2={538} y2={177} stroke="#555" strokeWidth={1.2} />
        <line x1={687} y1={151} x2={687} y2={177} stroke="#555" strokeWidth={1.2} />
        <line x1={859} y1={151} x2={859} y2={177} stroke="#555" strokeWidth={1.2} />
      </svg>
    </div>
  );
}
